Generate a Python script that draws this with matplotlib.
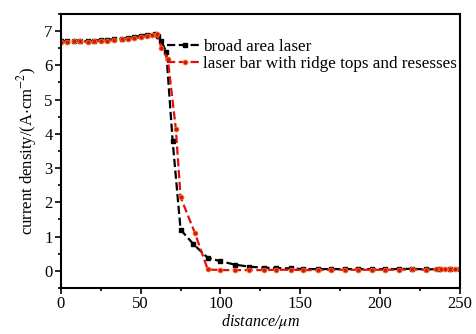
import matplotlib
matplotlib.use("Agg")
import matplotlib.pyplot as plt
from matplotlib.ticker import MultipleLocator

plt.rcParams['font.family'] = ['Liberation Serif', 'DejaVu Serif']
plt.rcParams['mathtext.fontset'] = 'stix'

# broad area laser
broad_x = [0, 4, 8, 12, 17, 21, 25, 29, 33, 38, 42, 46, 50, 54, 59, 61, 63, 66, 70, 75, 83, 92,
           100, 109, 118, 127, 135, 144, 152, 161, 169, 178, 186, 195, 203, 212, 220, 229, 237, 244, 250]
broad_y = [6.7, 6.7, 6.72, 6.72, 6.7, 6.72, 6.74, 6.75, 6.76, 6.78, 6.8, 6.83, 6.86, 6.9, 6.93, 6.85, 6.7, 6.4, 3.8, 1.2, 0.78, 0.38,
           0.28, 0.18, 0.12, 0.09, 0.08, 0.07, 0.05, 0.05, 0.05, 0.05, 0.05, 0.05, 0.05, 0.05, 0.06, 0.04, 0.05, 0.05, 0.05]

# laser bar with ridge tops and resesses
bar_x = [0, 4, 8, 12, 17, 21, 25, 29, 33, 38, 42, 46, 50, 54, 57, 60, 63, 67, 72, 75, 84, 92,
         100, 109, 118, 127, 135, 144, 152, 161, 169, 178, 186, 195, 203, 212, 220, 229, 235, 238, 241, 244, 247, 250]
bar_y = [6.68, 6.68, 6.7, 6.7, 6.68, 6.7, 6.72, 6.72, 6.74, 6.76, 6.78, 6.8, 6.82, 6.86, 6.88, 6.92, 6.52, 6.18, 4.15, 2.15, 1.1, 0.04,
         0.02, 0.02, 0.02, 0.02, 0.03, 0.03, 0.02, 0.02, 0.03, 0.03, 0.03, 0.03, 0.03, 0.03, 0.04, 0.03, 0.04, 0.04, 0.04, 0.05, 0.05, 0.05]

fig = plt.figure(figsize=(4.76, 3.34), dpi=100)
ax = fig.add_axes([0.128, 0.138, 0.838, 0.82])

ax.plot(broad_x, broad_y, color='black', linestyle='--', linewidth=1.6,
        marker='s', markersize=3.5, label='broad area laser')
ax.plot(bar_x, bar_y, color='#e01010', linestyle='--', linewidth=1.6,
        marker='o', markersize=3.5, markerfacecolor='#e01010', markeredgecolor='#f08020',
        markeredgewidth=0.6, label='laser bar with ridge tops and resesses')

ax.set_xlim(0, 250)
ax.set_ylim(-0.5, 7.5)
ax.xaxis.set_major_locator(MultipleLocator(50))
ax.xaxis.set_minor_locator(MultipleLocator(25))
ax.yaxis.set_major_locator(MultipleLocator(1))
ax.yaxis.set_minor_locator(MultipleLocator(0.5))
ax.tick_params(which='both', direction='out', labelsize=12, width=1.2)
ax.tick_params(which='major', length=4, pad=2)
ax.tick_params(which='minor', length=2)
for s in ax.spines.values():
    s.set_linewidth(1.5)

ax.set_xlabel('distance/$\\mu$m', fontsize=11.5, style='italic', labelpad=0)
ax.set_ylabel('current density/(A$\\cdot$cm$^{-2}$)', fontsize=12, labelpad=4)

ax.legend(loc='upper left', bbox_to_anchor=(0.25, 0.935), frameon=False, fontsize=12.3,
          handlelength=2.0, handletextpad=0.1, labelspacing=0.1, borderaxespad=0)

fig.savefig('out.png', dpi=100)
